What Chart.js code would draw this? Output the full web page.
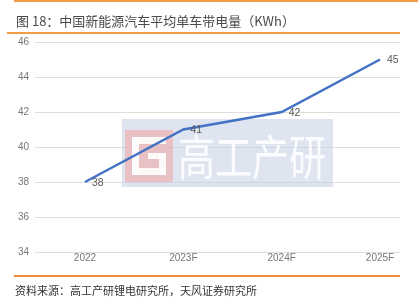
<!DOCTYPE html>
<html>
<head>
<meta charset="utf-8">
<script src="https://cdn.jsdelivr.net/npm/chart.js@4/dist/chart.umd.min.js"></script>
<style>
  body { margin: 0; background: #fff; }
  #wrap { position: relative; width: 418px; height: 299px; overflow: hidden; font-family: "Noto Sans CJK SC", sans-serif; }
  #topline { position: absolute; left: 14px; top: 0; width: 404px; height: 2px; background: #f39c44; }
  #title { position: absolute; left: 16px; top: 11px; font-size: 13px; color: #4a4a4a; white-space: nowrap; }
  #titleline { position: absolute; left: 7px; top: 32px; width: 393px; height: 2px; background: #f39c44; }
  #footline { position: absolute; left: 14px; top: 275px; width: 386px; height: 2px; background: #f08a3c; }
  #source { position: absolute; left: 15px; top: 282px; font-size: 11px; color: #333; white-space: nowrap; }
  canvas { position: absolute; left: 0; top: 0; }
</style>
</head>
<body>
<div id="wrap">
  <canvas id="chart" width="418" height="299"></canvas>
  <div id="topline"></div>
  <div id="title">图 18：中国新能源汽车平均单车带电量（KWh）</div>
  <div id="titleline"></div>
  <div id="footline"></div>
  <div id="source">资料来源：高工产研锂电研究所，天风证券研究所</div>
</div>
<script>
// chart data
const years = ['2022', '2023F', '2024F', '2025F'];
const capacity = [38, 41, 42, 45];
const yTicks = [34, 36, 38, 40, 42, 44, 46];

const tickFont = { family: '"Liberation Sans Narrow", "Liberation Sans", sans-serif', size: 10 };

// watermark behind the line
const watermark = {
    id: 'watermark',
    beforeDatasetsDraw(chart) {
        const ctx = chart.ctx;
        ctx.save();
        ctx.fillStyle = 'rgba(190, 204, 226, 0.5)';
        ctx.fillRect(122, 119, 211, 68);
        ctx.fillStyle = 'rgba(240, 175, 175, 0.65)';
        ctx.fillRect(125, 130, 48, 52);
        ctx.fillStyle = 'rgba(255,255,255,0.9)';
        // squared G shape
        ctx.fillRect(132, 137, 34, 7);
        ctx.fillRect(132, 137, 7, 38);
        ctx.fillRect(132, 168, 34, 7);
        ctx.fillRect(159, 153, 7, 22);
        ctx.fillRect(148, 153, 18, 6);
        ctx.translate(178, 157);
        ctx.scale(1, 1.3);
        ctx.font = '37px "Noto Sans CJK SC"';
        ctx.textBaseline = 'middle';
        ctx.fillText('高工产研', 0, 0);
        ctx.restore();
    }
};

// value labels right of each point
const valueLabels = {
    id: 'valueLabels',
    afterDatasetsDraw(chart) {
        const ctx = chart.ctx;
        const meta = chart.getDatasetMeta(0);
        ctx.save();
        ctx.font = '10.5px "Liberation Sans Narrow", "Liberation Sans", sans-serif';
        ctx.fillStyle = '#595959';
        ctx.textBaseline = 'middle';
        meta.data.forEach((pt, i) => {
            ctx.fillText(String(capacity[i]), pt.x + 7, pt.y + 1);
        });
        ctx.restore();
    }
};

new Chart(document.getElementById('chart'), {
    type: 'line',
    data: {
        datasets: [{
            data: capacity.map((v, i) => ({ x: i, y: v })),
            borderColor: '#4472c4',
            borderWidth: 2.5,
            pointRadius: 0,
            tension: 0,
            fill: false
        }]
    },
    options: {
        responsive: false,
        animation: false,
        layout: { padding: { left: 0, right: 18, top: 42, bottom: 27 } },
        plugins: { legend: { display: false }, tooltip: { enabled: false } },
        scales: {
            x: {
                type: 'linear',
                min: -0.508,
                max: 3.203,
                afterBuildTicks(axis) { axis.ticks = years.map((_, i) => ({ value: i })); },
                afterFit(axis) { axis.height = 20; },
                ticks: {
                    callback: (v) => years[v],
                    color: '#777',
                    font: tickFont,
                    padding: 0,
                    maxRotation: 0
                },
                grid: { display: false, drawTicks: false },
                border: { display: false }
            },
            y: {
                min: 34,
                max: 46,
                afterBuildTicks(axis) { axis.ticks = yTicks.map(v => ({ value: v })); },
                afterFit(axis) { axis.width = 35; },
                ticks: { color: '#777', font: tickFont, padding: 6 },
                grid: { color: '#dedede', lineWidth: 1, drawTicks: false },
                border: { display: false }
            }
        }
    },
    plugins: [watermark, valueLabels]
});
</script>
</body>
</html>
